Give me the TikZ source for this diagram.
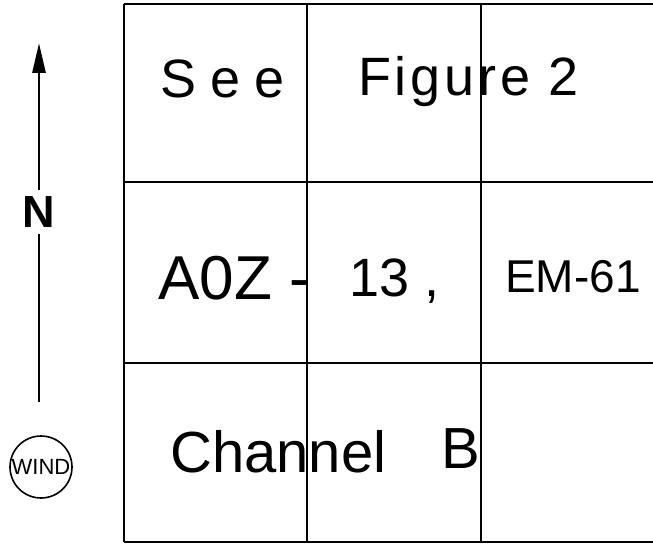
\documentclass[tikz,border=0pt]{standalone}
\usepackage{fontspec}
\setmainfont{Liberation Sans}
\newfontfamily\handfont{Liberation Sans}
\usetikzlibrary{positioning,arrows.meta}
\tikzset{gridline/.style={draw=black,line width=2.6pt}, hand/.style={anchor=base west,inner sep=0pt,font=\handfont\fontsize{54}{60}\selectfont}, windmark/.style={circle,draw=black,line width=1.6pt,minimum size=62pt,inner sep=0pt,font=\fontsize{22}{22}\selectfont}, northmark/.style={inner sep=6pt,font=\bfseries\fontsize{45}{45}\selectfont}}

\begin{document}
\begin{tikzpicture}[x=1pt,y=-1pt]
\useasboundingbox (0,0) rectangle (653,545);
% the grid, open on the right
\foreach \gx in {124,307,481} \draw[gridline] (\gx,4) -- (\gx,542);
\foreach \gy in {4,182,363,542} \draw[gridline] (124,\gy) -- (653,\gy);
% north arrow and wind mark
\coordinate (tip) at (39,43);
\coordinate (foot) at (39,402);
\node[northmark] (north) at (39,212) {N};
\draw[line width=2.8pt] (foot) -- (north);
\draw[line width=2.8pt,-{Triangle[width=13pt,length=30pt]}] (north) -- (tip);
\node[windmark] (wind) at (41,467) {WIND};
% handwritten notes
\node[hand] (see) at (160,98) {\addfontfeature{LetterSpace=26}See};
\node[hand] (fig) at (358,96) {\addfontfeature{LetterSpace=7}Figure 2};
\node[hand,font=\handfont\fontsize{62}{70}\selectfont] (aoz) at (158,299) {A0Z -};
\node[hand] (num) at (349,296) {13 ,};
\node[hand,font=\handfont\fontsize{46}{50}\selectfont] (em) at (505,293) {EM-61};
\node[hand,font=\handfont\fontsize{58}{66}\selectfont] (chan) at (170,472) {Channel};
\node[hand,font=\handfont\fontsize{58}{66}\selectfont] (chb) at (441,468) {B};
\end{tikzpicture}
\end{document}
